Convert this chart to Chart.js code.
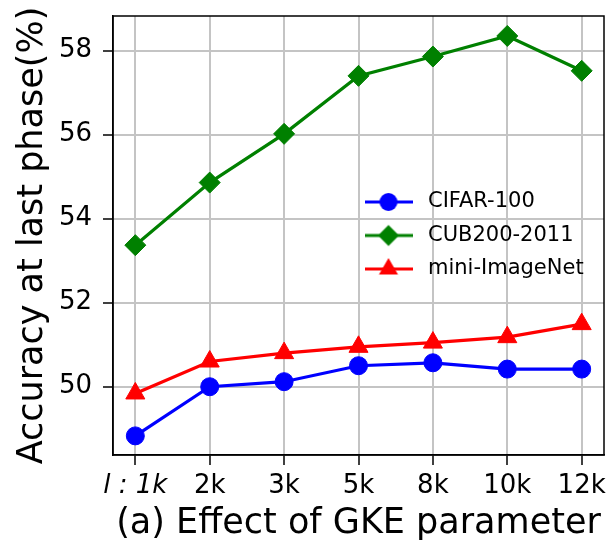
<!DOCTYPE html>
<html>
<head>
<meta charset="utf-8">
<script src="https://cdn.jsdelivr.net/npm/chart.js@4.4.1/dist/chart.umd.min.js"></script>
<style>
  body { margin: 0; background: #fff; }
  canvas { display: block; }
</style>
</head>
<body>
<canvas id="myChart" width="616" height="545"></canvas>
<script>
const xLabels = ['l : 1k', '2k', '3k', '5k', '8k', '10k', '12k'];
const cifar100 = [48.83, 50.0, 50.12, 50.5, 50.57, 50.42, 50.42];
const cub2002011 = [53.37, 54.86, 56.02, 57.4, 57.86, 58.35, 57.52];
const miniImageNet = [49.84, 50.6, 50.8, 50.95, 51.05, 51.18, 51.49];
const yTicks = [50, 52, 54, 56, 58];

const FONT = 'DejaVu Sans';

// legend icon: short line with the marker on top, like matplotlib
function makeIcon(color, style, r) {
  const c = document.createElement('canvas');
  c.width = 48; c.height = 26;
  const g = c.getContext('2d');
  const cx = 24, cy = 13;
  g.strokeStyle = color; g.fillStyle = color; g.lineWidth = 3;
  g.beginPath(); g.moveTo(0, cy); g.lineTo(48, cy); g.stroke();
  g.beginPath();
  if (style === 'circle') {
    g.arc(cx, cy, r, 0, Math.PI * 2);
  } else if (style === 'rectRot') {
    g.moveTo(cx - r, cy); g.lineTo(cx, cy - r); g.lineTo(cx + r, cy); g.lineTo(cx, cy + r);
  } else {
    g.moveTo(cx, cy - r);
    g.lineTo(cx + r * Math.sin(2 * Math.PI / 3), cy - r * Math.cos(2 * Math.PI / 3));
    g.lineTo(cx + r * Math.sin(4 * Math.PI / 3), cy - r * Math.cos(4 * Math.PI / 3));
  }
  g.closePath(); g.fill();
  return c;
}

function series(label, values, color, style, r) {
  return {
    label: label,
    data: values.map((v, i) => ({ x: i, y: v })),
    borderColor: color,
    backgroundColor: color,
    borderWidth: 3.2,
    pointStyle: style,
    pointRadius: r,
    pointBorderWidth: 1,
    pointHoverRadius: r,
    icon: makeIcon(color, style, r)
  };
}

const framePlugin = {
  id: 'frame',
  afterLayout(chart) {
    const lg = chart.legend;
    lg.left = 347; lg.top = 179;
    lg.right = lg.left + lg.width; lg.bottom = lg.top + lg.height;
  },
  afterDatasetsDraw(chart) {
    const { ctx, chartArea: a } = chart;
    ctx.save();
    ctx.strokeStyle = '#000';
    ctx.lineWidth = 1.5;
    ctx.strokeRect(a.left, a.top, a.right - a.left, a.bottom - a.top);
    ctx.restore();
  }
};

const ctx = document.getElementById('myChart').getContext('2d');
const myChart = new Chart(ctx, {
  type: 'line',
  data: {
    datasets: [
      series('CIFAR-100', cifar100, '#0000ff', 'circle', 9),
      series('CUB200-2011', cub2002011, '#008000', 'rectRot', 10.5),
      series('mini-ImageNet', miniImageNet, '#ff0000', 'triangle', 11)
    ]
  },
  options: {
    responsive: false,
    animation: false,
    devicePixelRatio: 1,
    layout: { padding: { top: 16, right: 9, left: 0, bottom: 0 } },
    plugins: {
      tooltip: { enabled: false },
      legend: {
        position: 'chartArea',
        align: 'start',
        labels: {
          usePointStyle: true,
          pointStyleWidth: 58,
          padding: 12.5,
          color: '#000',
          font: { family: FONT, size: 21 },
          generateLabels: (chart) => chart.data.datasets.map((ds, i) => ({
            text: ds.label,
            pointStyle: ds.icon,
            fillStyle: ds.borderColor,
            strokeStyle: ds.borderColor,
            lineWidth: 0,
            fontColor: '#000',
            hidden: false,
            datasetIndex: i
          }))
        }
      }
    },
    scales: {
      x: {
        type: 'linear',
        min: -0.3,
        max: 6.3,
        afterFit: (s) => { s.height = 90; s.paddingLeft = 0; s.paddingRight = 0; },
        afterBuildTicks: (s) => { s.ticks = xLabels.map((_, i) => ({ value: i })); },
        grid: { color: '#c4c4c4', lineWidth: 2, tickColor: '#000', tickLength: 10, tickWidth: 1.5 },
        border: { color: '#000', width: 1.5 },
        ticks: {
          padding: 6,
          color: '#000',
          maxRotation: 0,
          font: (c) => ({ family: FONT, size: 26, style: c.index === 0 ? 'italic' : 'normal' }),
          callback: (v) => xLabels[v]
        },
        title: {
          display: true,
          text: '(a) Effect of GKE parameter',
          color: '#000',
          font: { family: FONT, size: 35 },
          padding: { top: 0, bottom: 0 }
        }
      },
      y: {
        min: 48.375,
        max: 58.825,
        afterFit: (s) => { s.width = 113; s.paddingTop = 0; s.paddingBottom = 0; },
        afterBuildTicks: (s) => { s.ticks = yTicks.map(v => ({ value: v })); },
        grid: { color: '#c4c4c4', lineWidth: 2, tickColor: '#000', tickLength: 10, tickWidth: 1.5 },
        border: { color: '#000', width: 1.5 },
        ticks: {
          padding: 11,
          color: '#000',
          font: { family: FONT, size: 26 }
        },
        title: {
          display: true,
          text: 'Accuracy at last phase(%)',
          color: '#000',
          font: { family: FONT, size: 35 },
          padding: { top: 12, bottom: 0 }
        }
      }
    }
  },
  plugins: [framePlugin]
});
</script>
</body>
</html>
